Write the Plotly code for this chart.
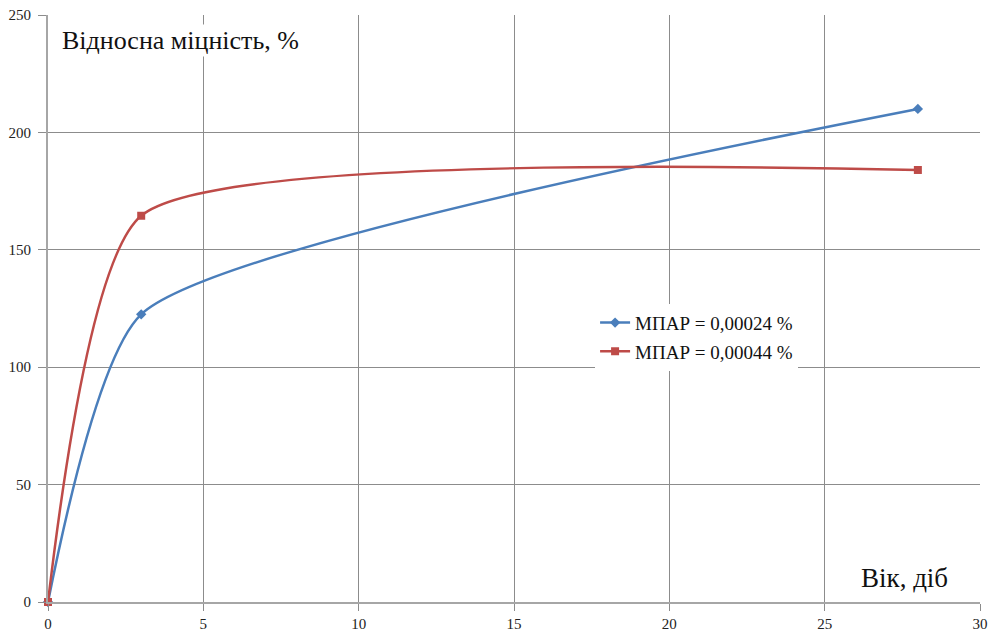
import plotly.graph_objects as go

age_days = [0, 3, 28]
strength_024 = [0, 122.5, 210]
strength_044 = [0, 164.5, 184]
series_names = ["МПАР = 0,00024 %", "МПАР = 0,00044 %"]
x_ticks = [0, 5, 10, 15, 20, 25, 30]
y_ticks = [0, 50, 100, 150, 200, 250]

serif = "Liberation Serif, Times New Roman, serif"

fig = go.Figure()
fig.add_trace(go.Scatter(
    x=age_days, y=strength_024, name=series_names[0], mode="lines+markers",
    legendgroup="a",
    line=dict(color="#4A7EBB", width=2.5, shape="spline", smoothing=0.55),
    marker=dict(symbol="diamond", size=8, color="#4A7EBB"),
    cliponaxis=False,
))
fig.add_trace(go.Scatter(
    x=age_days, y=strength_044, name=series_names[1], mode="lines+markers",
    legendgroup="b",
    line=dict(color="#BE4B48", width=2.5, shape="spline", smoothing=0.55),
    marker=dict(symbol="square", size=8, color="#BE4B48"),
    cliponaxis=False,
))

fig.update_layout(
    width=988, height=635,
    margin=dict(l=48, r=8, t=15, b=33, autoexpand=False),
    paper_bgcolor="white", plot_bgcolor="white",
    font=dict(family=serif, size=15, color="#222"),
    legend=dict(x=0.587, y=0.451, xanchor="left", yanchor="middle",
                bgcolor="white", font=dict(family=serif, size=19, color="#111"),
                itemwidth=30, traceorder="grouped", tracegroupgap=1),
    xaxis=dict(range=[0, 30], tickvals=x_ticks, showgrid=True, gridcolor="#8C8C8C", gridwidth=1,
               showline=True, linecolor="#A6A6A6", linewidth=2, ticks="outside", ticklen=7,
               ticklabeloverflow="allow",
               tickcolor="#8C8C8C", zeroline=False, mirror=False, automargin=False),
    yaxis=dict(range=[0, 250], tickvals=y_ticks, showgrid=True, gridcolor="#8C8C8C", gridwidth=1,
               showline=True, linecolor="#A6A6A6", linewidth=2, ticks="outside", ticklen=8,
               ticklabelstandoff=4, ticklabeloverflow="allow",
               tickcolor="#8C8C8C", zeroline=False, automargin=False),
    annotations=[
        dict(text="Відносна міцність, %", x=0.013, y=0.985, xref="paper", yref="paper",
             xanchor="left", yanchor="top", showarrow=False,
             font=dict(family=serif, size=26, color="#111"), bgcolor="white"),
        dict(text="Вік, діб", x=0.968, y=0.012, xref="paper", yref="paper",
             xanchor="right", yanchor="bottom", showarrow=False,
             font=dict(family=serif, size=27, color="#111"), bgcolor="white"),
    ],
)

fig.write_html("out.html",
               config={"displayModeBar": False},
               post_script="document.body.style.margin='0';document.body.style.overflow='hidden';")
